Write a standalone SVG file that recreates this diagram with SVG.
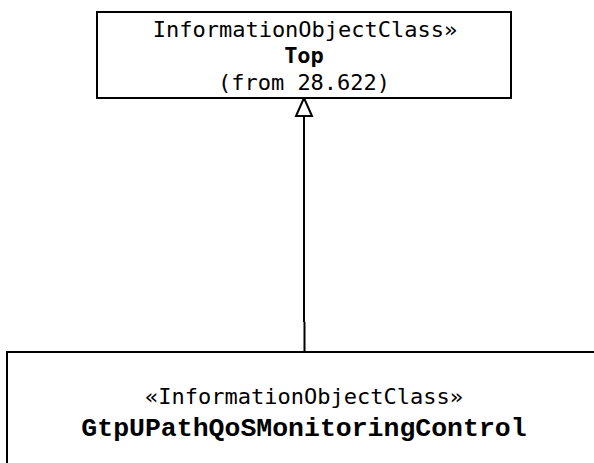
<svg xmlns="http://www.w3.org/2000/svg" width="594" height="463" viewBox="0 0 594 463">
<style>
.box{fill:#fff;stroke:#000;stroke-width:2}
.st{font-family:"DejaVu Sans Mono",monospace;font-size:22px;fill:#000;text-anchor:middle}
.nm{font-family:"DejaVu Sans Mono",monospace;font-size:22px;font-weight:bold;fill:#000;text-anchor:middle}
.cn{font-family:"Liberation Mono","Courier New",monospace;font-size:26.5px;font-weight:bold;fill:#000;text-anchor:middle}
.ln{fill:none;stroke:#000;stroke-width:2}
</style>
<rect width="594" height="463" fill="#fff"/>
<g id="connectors">
<path class="ln" d="M304,116 V322 M304.5,322 V352"/>
<polygon points="304,98 296,116 312,116" fill="#fff" stroke="#000" stroke-width="2"/>
</g>
<g id="top">
<rect class="box" x="97" y="12" width="414" height="86"/>
<text class="st" x="305" y="37">InformationObjectClass»</text>
<text class="nm" x="304" y="63">Top</text>
<text class="st" x="304" y="90">(from 28.622)</text>
</g>
<g id="gtp">
<rect class="box" x="7" y="352" width="600" height="130"/>
<text class="st" x="304" y="404">«InformationObjectClass»</text>
<text class="cn" x="304" y="436">GtpUPathQoSMonitoringControl</text>
</g>
</svg>
